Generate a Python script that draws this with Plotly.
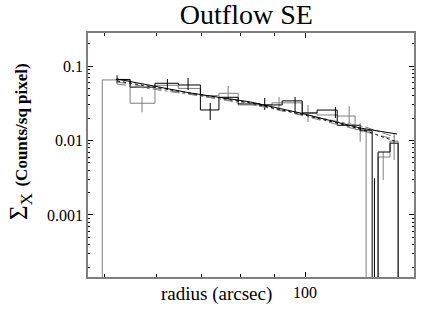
import plotly.graph_objects as go

# ---------------- data ----------------
FLOOR = 1e-6  # stands in for zero on the log axis

# grey profile (step histogram)
grey_edges = [49.7, 54.7, 59.6, 64.6, 69.7, 74.3, 79.4, 89.2, 99.0, 104.2, 111.7, 118.8, 123.4, 128.6, 134.0, 137.8]
grey_vals = [0.065, 0.0316, 0.055, 0.050, 0.040, 0.043, 0.030, 0.032, 0.0234, 0.022, 0.0213, 0.014, 0.0, 0.0060, 0.0098]
grey_err_r = [57.0, 76.7, 91.4, 101.0, 116.4, 120.9, 130.9, 135.9]
grey_err_lo = [0.0239, 0.035, 0.0257, 0.0177, 0.0167, 0.0096, 0.00295, 0.00547]
grey_err_hi = [0.0384, 0.054, 0.0384, 0.030, 0.029, 0.0172, 0.0070, 0.0126]

# black profile (step histogram)
black_edges = [52.1, 54.7, 59.6, 64.6, 69.7, 74.3, 79.4, 85.6, 92.4, 99.0, 104.2, 111.7, 120.9, 126.0, 128.6, 134.0, 137.8]
black_vals = [0.066, 0.052, 0.0586, 0.0556, 0.0257, 0.038, 0.031, 0.030, 0.034, 0.0234, 0.0256, 0.0160, 0.0135, 0.0, 0.0070, 0.0092]
black_err_r = [52.3, 62.2, 66.8, 72.1, 87.0, 96.6, 111.0, 127.0]
black_err_lo = [0.058, 0.0477, 0.0477, 0.0188, 0.0257, 0.0241, 0.0200, 0.0]
black_err_hi = [0.075, 0.0669, 0.069, 0.0319, 0.0372, 0.0384, 0.0282, 0.0031]

# model curves
fit_r = [52.3, 67.3, 82.8, 98.3, 120.9, 137.3]
fit_solid = [0.0669, 0.0434, 0.0329, 0.0234, 0.0147, 0.0122]
fit_dashed = [0.0610, 0.0421, 0.0309, 0.0220, 0.0138, 0.0102]
fit_dotted = [0.0629, 0.0434, 0.0319, 0.0227, 0.0143, 0.00955]
fit_dashdot_r = [52.3, 69.7, 85.6, 105.3, 123.0, 136.3]
fit_dashdot = [0.0573, 0.0396, 0.0290, 0.0200, 0.0152, 0.0111]

x_minor_ticks = [50, 60, 70, 80, 90]
x_major_ticks = [100]
y_major_ticks = [0.1, 0.01, 0.001]
y_major_text = ["0.1", "0.01", "0.001"]
y_minor_ticks = [m * 10 ** e for e in (-4, -3, -2, -1) for m in range(2, 10)]

# ---------------- helpers ----------------
def step_xy(edges, vals, start_floor=True, end_floor=True):
    v = [max(x, FLOOR) for x in vals]
    xs, ys = [], []
    if start_floor:
        xs.append(edges[0]); ys.append(FLOOR)
    xs += edges[:-1]; ys += v
    xs.append(edges[-1]); ys.append(v[-1] if not end_floor else FLOOR)
    return xs, ys

def err_xy(r, lo, hi):
    xs, ys = [], []
    for a, b, c in zip(r, lo, hi):
        xs += [a, a, None]
        ys += [max(b, FLOOR), c, None]
    return xs, ys

GREY = "#7f7f7f"
fig = go.Figure()

gx, gy = step_xy(grey_edges, grey_vals, True, True)
fig.add_trace(go.Scatter(x=gx, y=gy, mode="lines", line=dict(color=GREY, width=1, shape="hv"), showlegend=False))
ex, ey = err_xy(grey_err_r, grey_err_lo, grey_err_hi)
fig.add_trace(go.Scatter(x=ex, y=ey, mode="lines", line=dict(color=GREY, width=1), showlegend=False))

bx, by = step_xy(black_edges, black_vals, False, True)
fig.add_trace(go.Scatter(x=bx, y=by, mode="lines", line=dict(color="black", width=1, shape="hv"), showlegend=False))
ex, ey = err_xy(black_err_r, black_err_lo, black_err_hi)
fig.add_trace(go.Scatter(x=ex, y=ey, mode="lines", line=dict(color="black", width=1), showlegend=False))

fig.add_trace(go.Scatter(x=fit_r, y=fit_dashed, mode="lines", line=dict(color=GREY, width=1, dash="dash"), showlegend=False))
fig.add_trace(go.Scatter(x=fit_dashdot_r, y=fit_dashdot, mode="lines", line=dict(color=GREY, width=1, dash="dashdot"), showlegend=False))
fig.add_trace(go.Scatter(x=fit_r, y=fit_dotted, mode="lines", line=dict(color="black", width=1, dash="dot"), showlegend=False))
fig.add_trace(go.Scatter(x=fit_r, y=fit_solid, mode="lines", line=dict(color="black", width=1), showlegend=False))

SERIF = "Liberation Serif, Times New Roman, serif"
fig.update_layout(
    width=436, height=326,
    margin=dict(l=88, r=22, t=33, b=49),
    paper_bgcolor="white", plot_bgcolor="white",
    font=dict(family=SERIF, color="black"),
    hovermode=False,
    title=dict(text="Outflow SE", x=0.565, xanchor="center", y=1 - 14 / 326, yanchor="middle",
               font=dict(family=SERIF, size=28, color="black")),
)
fig.update_xaxes(
    type="log", range=[1.675, 2.163],
    showgrid=False, zeroline=False,
    showline=True, linecolor=GREY, linewidth=1.5, mirror="ticks",
    ticks="inside", ticklen=5, tickcolor="black",
    tickvals=x_major_ticks, ticktext=[str(t) for t in x_major_ticks],
    tickfont=dict(family=SERIF, size=16),
    minor=dict(tickvals=x_minor_ticks, ticks="inside", ticklen=3, tickcolor="black", showgrid=False),
)
fig.update_yaxes(
    type="log", range=[-3.833, -0.557],
    showgrid=False, zeroline=False,
    showline=True, linecolor=GREY, linewidth=1.5, mirror="ticks",
    ticks="inside", ticklen=5, tickcolor="black",
    tickvals=y_major_ticks, ticktext=y_major_text,
    tickfont=dict(family=SERIF, size=16),
    minor=dict(tickvals=y_minor_ticks, ticks="inside", ticklen=2, tickcolor="black", showgrid=False),
)
fig.add_annotation(text="radius (arcsec)", xref="paper", yref="paper", x=(216 - 88) / 326, y=(277 - 294) / 244,
                   xanchor="center", yanchor="middle", showarrow=False, font=dict(family=SERIF, size=19))
fig.add_annotation(text="Σ<sub>X</sub> <span style='font-size:17px'><b>(Counts/sq pixel)</b></span>",
                   xref="paper", yref="paper", x=(20 - 88) / 326, y=(277 - 142) / 244,
                   xanchor="center", yanchor="middle", textangle=-90, showarrow=False,
                   font=dict(family=SERIF, size=25))

fig.write_html("out.html", config={"displayModeBar": False},
               post_script="document.body.style.margin='0';")
